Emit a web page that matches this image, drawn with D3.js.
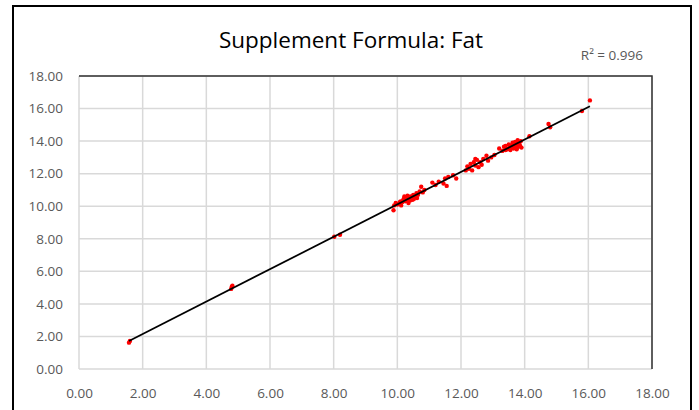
<!DOCTYPE html>
<html>
<head>
<meta charset="utf-8">
<script src="https://cdn.jsdelivr.net/npm/d3@7"></script>
<style>
  body { margin: 0; background: #fff; }
  text { font-family: "Open Sans", "Noto Sans", sans-serif; }
</style>
</head>
<body>
<script>
const W = 699, H = 410;
const margin = {top: 76, right: 47, bottom: 41, left: 79},
    width = W - margin.left - margin.right,
    height = H - margin.top - margin.bottom;

// ticks shared by both axes
const tickValues = [0, 2, 4, 6, 8, 10, 12, 14, 16, 18];

const xVals = [1.57, 1.6, 4.78, 4.8, 4.82, 8.02, 8.2,
  9.88, 9.9, 9.95, 10.0, 10.05, 10.1, 10.12, 10.15, 10.2, 10.22, 10.25, 10.3, 10.32, 10.35, 10.38, 10.4,
  10.42, 10.45, 10.5, 10.52, 10.55, 10.6, 10.62, 10.65, 10.7, 10.75, 10.8, 10.85, 10.3, 10.18, 10.08, 10.48,
  11.1, 11.2, 11.3, 11.45, 11.5, 11.55, 11.6, 11.75, 11.85,
  12.15, 12.2, 12.25, 12.3, 12.35, 12.4, 12.45, 12.5, 12.55, 12.6, 12.65, 12.7, 12.8, 12.85, 12.95, 13.05, 12.45,
  13.2, 13.3, 13.35, 13.4, 13.45, 13.5, 13.52, 13.55, 13.6, 13.62, 13.65, 13.68, 13.7, 13.72, 13.75, 13.78,
  13.8, 13.82, 13.85, 13.88, 13.9, 13.75, 13.6, 13.82, 13.7, 13.4, 13.55,
  14.15, 14.75, 14.8, 15.8, 16.05];
const yVals = [1.62, 1.72, 4.92, 5.05, 5.12, 8.12, 8.25,
  9.75, 10.05, 10.2, 10.1, 10.15, 10.3, 10.05, 10.25, 10.45, 10.6, 10.3, 10.4, 10.65, 10.2, 10.5, 10.35,
  10.6, 10.55, 10.7, 10.45, 10.6, 10.8, 10.5, 10.7, 10.9, 11.2, 10.85, 11.0, 10.55, 10.35, 10.25, 10.4,
  11.45, 11.3, 11.5, 11.4, 11.7, 11.25, 11.8, 11.9, 11.7,
  12.2, 12.45, 12.3, 12.6, 12.2, 12.7, 12.5, 12.85, 12.4, 12.7, 12.55, 12.9, 13.1, 12.8, 13.0, 13.15, 12.9,
  13.55, 13.4, 13.65, 13.7, 13.5, 13.8, 13.6, 13.45, 13.75, 13.9, 13.55, 13.7, 13.95, 13.8, 13.5, 14.05,
  13.65, 13.85, 13.75, 14.0, 13.6, 13.85, 13.6, 13.95, 13.65, 13.45, 13.7,
  14.3, 15.05, 14.85, 15.85, 16.5];

const title = "Supplement Formula: Fat";
const r2Label = "R² = 0.996";

const points = xVals.map((x, i) => ({x: x, y: yVals[i]}));

// least squares trendline
const mx = d3.mean(xVals), my = d3.mean(yVals);
const slope = d3.sum(points, d => (d.x - mx) * (d.y - my)) / d3.sum(points, d => (d.x - mx) * (d.x - mx));
const intercept = my - slope * mx;
const xExt = d3.extent(xVals);

const x = d3.scaleLinear().domain([0, 18]).range([0, width]);
const y = d3.scaleLinear().domain([0, 18]).range([height, 0]);

const svg = d3.select("body").append("svg")
    .attr("width", W)
    .attr("height", H);

// outer frame
svg.append("rect")
    .attr("x", 13).attr("y", 6)
    .attr("width", 678).attr("height", H)
    .attr("fill", "none")
    .attr("stroke", "#000")
    .attr("stroke-width", 2);

svg.append("text")
    .attr("x", 351).attr("y", 48)
    .attr("text-anchor", "middle")
    .attr("font-size", 22.5)
    .attr("fill", "#000")
    .text(title);

svg.append("text")
    .attr("x", 643).attr("y", 60)
    .attr("text-anchor", "end")
    .attr("font-size", 13.5)
    .attr("fill", "#595959")
    .text(r2Label);

const g = svg.append("g")
    .attr("transform", "translate(" + margin.left + "," + margin.top + ")");

// gridlines
g.append("g")
    .selectAll("line.gx")
    .data(tickValues)
    .join("line")
    .attr("x1", d => x(d)).attr("x2", d => x(d))
    .attr("y1", 0).attr("y2", height)
    .attr("stroke", "#d9d9d9")
    .attr("stroke-width", 1.5);

g.append("g")
    .selectAll("line.gy")
    .data(tickValues)
    .join("line")
    .attr("x1", 0).attr("x2", width)
    .attr("y1", d => y(d)).attr("y2", d => y(d))
    .attr("stroke", "#d9d9d9")
    .attr("stroke-width", 1.5);

// dark top and right edges of the plot area
g.append("path")
    .attr("d", "M0," + y(18) + "H" + x(18) + "V" + y(0))
    .attr("fill", "none")
    .attr("stroke", "#333")
    .attr("stroke-width", 1.5);

const xAxis = d3.axisBottom(x)
    .tickValues(tickValues)
    .tickSize(0)
    .tickPadding(19)
    .tickFormat(d3.format(".2f"));
const yAxis = d3.axisLeft(y)
    .tickValues(tickValues)
    .tickSize(0)
    .tickPadding(16)
    .tickFormat(d3.format(".2f"));

g.append("g")
    .attr("transform", "translate(0," + height + ")")
    .call(xAxis)
    .call(s => s.select(".domain").remove())
    .selectAll("text")
    .attr("font-size", 13.5)
    .attr("fill", "#595959");

g.append("g")
    .call(yAxis)
    .call(s => s.select(".domain").remove())
    .selectAll("text")
    .attr("font-size", 13.5)
    .attr("fill", "#595959");

// points
g.append("g")
    .selectAll("circle")
    .data(points)
    .join("circle")
    .attr("cx", d => x(d.x))
    .attr("cy", d => y(d.y))
    .attr("r", 2.2)
    .attr("fill", "#ff0000");

// trendline
g.append("line")
    .attr("x1", x(xExt[0])).attr("y1", y(slope * xExt[0] + intercept))
    .attr("x2", x(xExt[1])).attr("y2", y(slope * xExt[1] + intercept))
    .attr("stroke", "#000")
    .attr("stroke-width", 1.75);
</script>
</body>
</html>
